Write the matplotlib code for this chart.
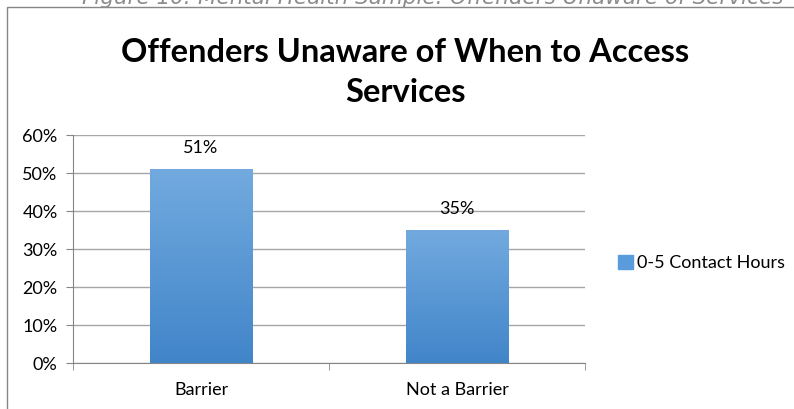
import matplotlib.pyplot as plt
import matplotlib.patches as mpatches
import numpy as np

categories = ['Barrier', 'Not a Barrier']
values = [51, 35]
series_name = '0-5 Contact Hours'
yticks = [0, 10, 20, 30, 40, 50, 60]

plt.rcParams['font.family'] = ['Lato', 'DejaVu Sans']

fig = plt.figure(figsize=(7.94, 4.09), dpi=100)
W, H = 794, 409

# caption of the page, cut off at the top like in the original
fig.text(82 / W, 1 - 3.5 / H, 'Figure 10: Mental Health Sample: Offenders Unaware of Services',
         fontsize=15.5, color='#8c8c8c', style='italic', family='DejaVu Sans',
         va='baseline', ha='left')

# chart frame
fig.patches.append(mpatches.Rectangle((7 / W, -0.1), 1.2, 1 - 6.5 / H + 0.1,
                                      transform=fig.transFigure, fill=False,
                                      edgecolor='#868686', linewidth=1))

fig.text(405 / W, 1 - 53 / H, 'Offenders Unaware of When to Access', fontsize=23.5,
         fontweight='bold', ha='center', va='center')
fig.text(405 / W, 1 - 92 / H, 'Services', fontsize=23.5, fontweight='bold',
         ha='center', va='center')

ax = fig.add_axes([73 / W, 1 - 363 / H, (585 - 73) / W, (363 - 135.3) / H])
x = np.arange(len(categories))
bars = ax.bar(x, values, width=0.4, color='#4f94d6', zorder=3, label=series_name)

# vertical gradient inside each bar
grad = np.linspace(0, 1, 256).reshape(-1, 1)
cmap = plt.matplotlib.colors.LinearSegmentedColormap.from_list('g', ['#4185c9', '#72aadf'])
for b in bars:
    im = ax.imshow(grad, extent=(b.get_x(), b.get_x() + b.get_width(), 0, b.get_height()),
                   origin='lower', cmap=cmap, aspect='auto', zorder=4)
    im.set_clip_path(b)

for xi, v in zip(x, values):
    ax.text(xi, v + 3.6, f'{v}%', ha='center', va='bottom', fontsize=13)

ax.set_xlim(-0.5, len(categories) - 0.5)
ax.set_ylim(0, 60)
ax.set_yticks(yticks)
ax.set_yticklabels([f'{t}%' for t in yticks], fontsize=13)
ax.set_xticks(x)
ax.set_xticklabels(categories, fontsize=13)
ax.set_xticks([-0.5, 0.5, 1.5], minor=True)
ax.tick_params(axis='x', which='major', length=0, pad=14)
ax.tick_params(axis='x', which='minor', length=5, color='#868686', direction='out')
ax.tick_params(axis='y', length=5, color='#868686', direction='out', pad=6)
ax.grid(axis='y', color='#a6a6a6', linewidth=1, zorder=0)
for s in ['top', 'right']:
    ax.spines[s].set_visible(False)
for s in ['left', 'bottom']:
    ax.spines[s].set_color('#868686')
ax.set_axisbelow(True)

handle = mpatches.Patch(color='#5a9bdb')
fig.legend([handle], [series_name], loc='center left', bbox_to_anchor=(602 / W, 1 - 263 / H),
           frameon=False, fontsize=13, handlelength=0.8, handleheight=0.8, handletextpad=0.25)

fig.savefig('out.png', dpi=100)
